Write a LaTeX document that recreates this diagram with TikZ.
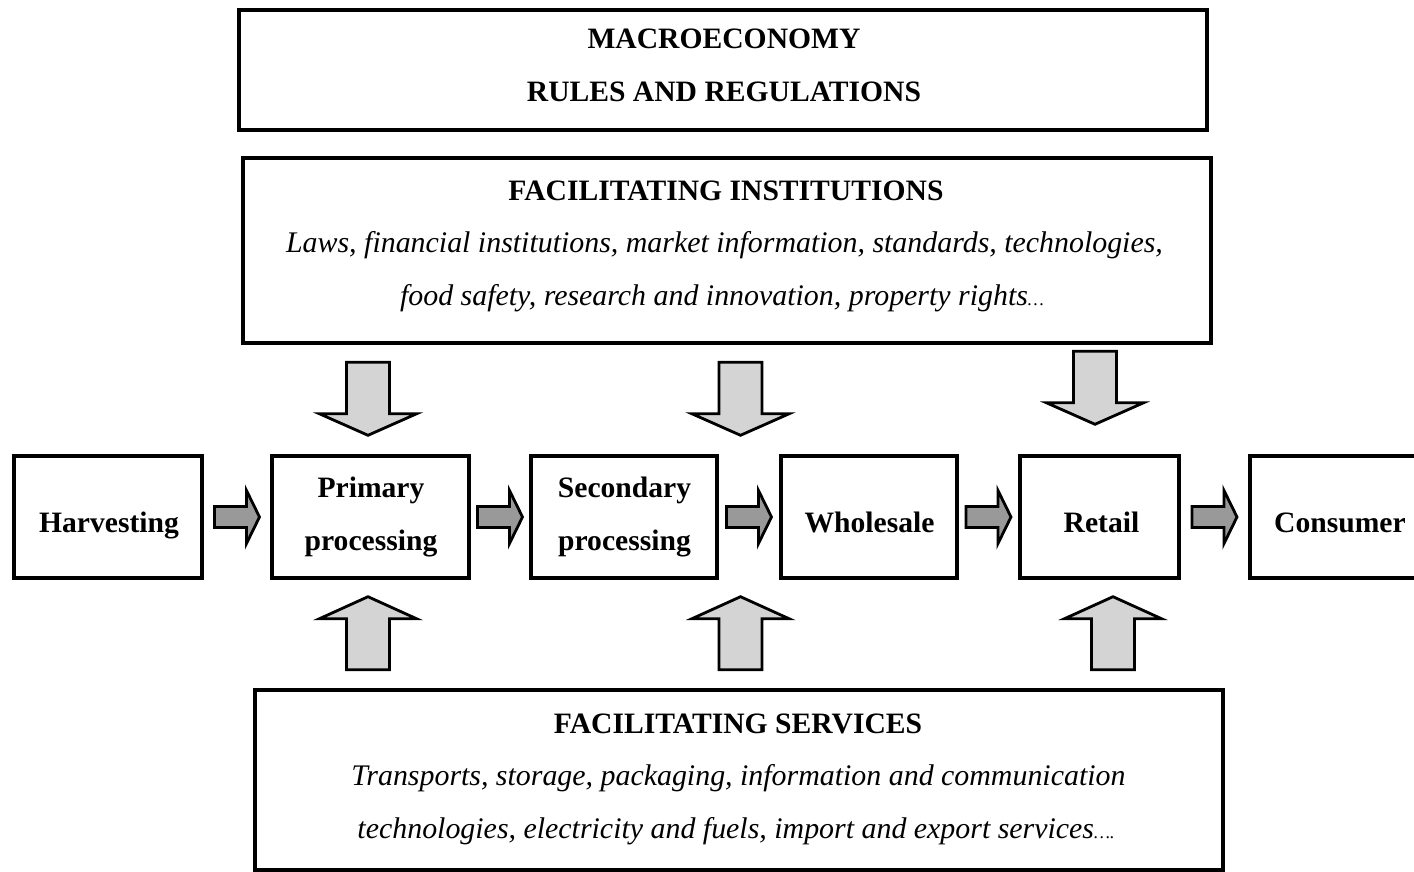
\documentclass[tikz,border=0pt]{standalone}
\usepackage{fontspec}
\setmainfont{Liberation Serif}
\usetikzlibrary{calc}
\definecolor{harrfill}{gray}{0.6}
\definecolor{varrfill}{gray}{0.83}
\tikzset{
  box/.style={draw=black, line width=1.7pt, fill=white, inner sep=0pt, rectangle},
  ttl/.style={font=\bfseries\fontsize{14.8}{17}\selectfont, anchor=base, inner sep=0pt},
  itx/.style={font=\itshape\fontsize{14.95}{17}\selectfont, anchor=base, inner sep=0pt},
  blockarrow/.style={draw=black, line width=1.4pt, line join=miter},
  pics/harr/.style={code={
    \draw[blockarrow, fill=harrfill] (-22.5,-10.5) -- (9.5,-10.5) -- (9.5,-26.5) -- (22.5,0)
      -- (9.5,26.5) -- (9.5,10.5) -- (-22.5,10.5) -- cycle;}},
  pics/darr/.style={code={
    \draw[blockarrow, fill=varrfill] (-21.5,-36.5) -- (21.5,-36.5) -- (21.5,15) -- (48.5,15)
      -- (0,36.5) -- (-48.5,15) -- (-21.5,15) -- cycle;}},
  pics/uarr/.style={code={
    \draw[blockarrow, fill=varrfill] (-21.5,36.5) -- (21.5,36.5) -- (21.5,-14.5) -- (48.5,-14.5)
      -- (0,-36.5) -- (-48.5,-14.5) -- (-21.5,-14.5) -- cycle;}}
}
\begin{document}
\begin{tikzpicture}[x=0.5pt, y=-0.5pt]
\useasboundingbox[fill=white] (0,0) rectangle (1414,872);

% top boxes
\node[box, minimum width=484pt, minimum height=60pt] (macro) at (723,70) {};
\node[ttl] (macrot1) at (724,49) {MACROECONOMY};
\node[ttl] (macrot2) at (724,102) {RULES AND REGULATIONS};

\node[box, minimum width=484pt, minimum height=92.5pt] (inst) at (727,250.5) {};
\node[ttl] (instt) at (726,200) {FACILITATING INSTITUTIONS};
\node[itx] (insti1) at (724.5,252) {Laws, financial institutions, market information, standards, technologies,};
\node[itx] (insti2) at (722,305) {food safety, research and innovation, property rights{\small\ldots}};

% chain boxes
\node[box, minimum width=94pt, minimum height=61pt] (harv) at (108,517) {};
\node[box, minimum width=98.5pt, minimum height=61pt] (prim) at (370.5,517) {};
\node[box, minimum width=93pt, minimum height=61pt] (sec) at (624,517) {};
\node[box, minimum width=88pt, minimum height=61pt] (whol) at (869,517) {};
\node[box, minimum width=79.5pt, minimum height=61pt] (ret) at (1099.5,517) {};
\node[box, minimum width=92pt, minimum height=61pt] (cons) at (1342,517) {};

\node[ttl] (harvt) at (109,532) {Harvesting};
\node[ttl] (primt1) at (371,497) {Primary};
\node[ttl] (primt2) at (371,550) {processing};
\node[ttl] (sect1) at (624.5,497) {Secondary};
\node[ttl] (sect2) at (624.5,550) {processing};
\node[ttl] (wholt) at (869.5,532) {Wholesale};
\node[ttl] (rett) at (1101.5,532) {Retail};
\node[ttl] (const) at (1340,532) {Consumer};

% bottom box
\node[box, minimum width=484pt, minimum height=90pt] (serv) at (739,780) {};
\node[ttl] (servt) at (738,733) {FACILITATING SERVICES};
\node[itx] (servi1) at (738.5,785) {Transports, storage, packaging, information and communication};
\node[itx] (servi2) at (736,838) {technologies, electricity and fuels, import and export services{\small\ldots.}};

% horizontal arrows
\pic at ($(harv.east)!0.5!(prim.west)$) {harr};
\pic at ($(prim.east)!0.5!(sec.west)$) {harr};
\pic at ($(sec.east)!0.5!(whol.west)$) {harr};
\pic at ($(whol.east)!0.5!(ret.west)$) {harr};
\pic at ($(ret.east)!0.5!(cons.west)$) {harr};

% vertical arrows from institutions
\pic at ($(prim.north)+(-2.5,-55.5)$) {darr};
\pic at ($(sec.north east)!0.36!(whol.north west)+(0,-55.5)$) {darr};
\pic at ($(ret.north)+(-4.5,-66.5)$) {darr};

% vertical arrows from services
\pic at ($(prim.south)+(-2.5,53.5)$) {uarr};
\pic at ($(sec.south east)!0.36!(whol.south west)+(0,53.5)$) {uarr};
\pic at ($(ret.south)+(13.5,53.5)$) {uarr};
\end{tikzpicture}
\end{document}
